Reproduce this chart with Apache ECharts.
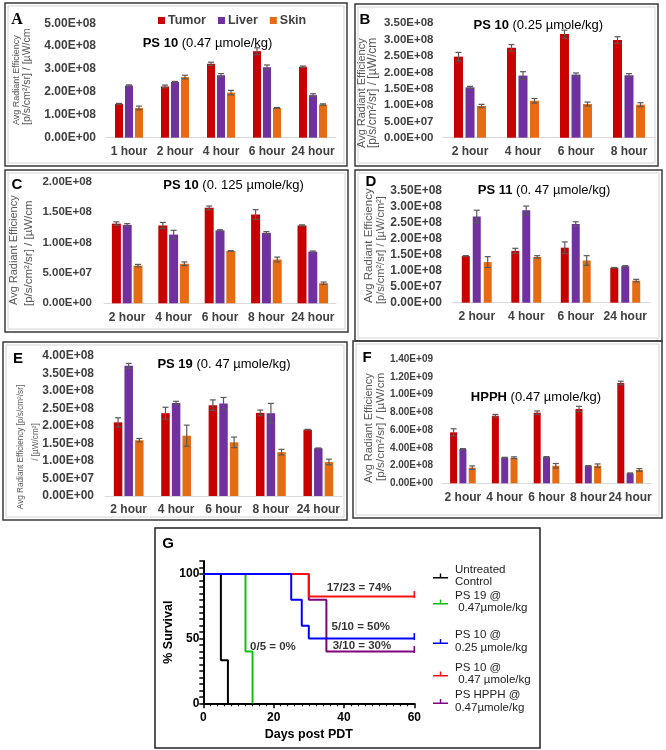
<!DOCTYPE html>
<html><head><meta charset="utf-8">
<script src="https://cdn.jsdelivr.net/npm/echarts@6/dist/echarts.min.js"></script>
<style>html,body{margin:0;padding:0;background:#fff}#c{width:666px;height:750px}</style>
</head><body><div id="c"></div><script>
const FONT = '"Liberation Sans", Arial, sans-serif';
const groups = ['Tumor', 'Liver', 'Skin'];
const groupColors = ['#c80000', '#7030a0', '#e56c12'];

// Panel A : PS 10 (0.47 umole/kg)
const catsA = ['1 hour', '2 hour', '4 hour', '6 hour', '24 hour'];
const tumorA = [1.48e8, 2.24e8, 3.23e8, 3.78e8, 3.10e8];
const liverA = [2.28e8, 2.44e8, 2.73e8, 3.08e8, 1.86e8];
const skinA = [1.30e8, 2.65e8, 1.97e8, 1.30e8, 1.45e8];
const tumorErrA = [0.02e8, 0.06e8, 0.07e8, 0.15e8, 0.03e8];
const liverErrA = [0.03e8, 0.02e8, 0.07e8, 0.10e8, 0.06e8];
const skinErrA = [0.08e8, 0.08e8, 0.10e8, 0.02e8, 0.03e8];

// Panel B : PS 10 (0.25 umole/kg)
const catsB = ['2 hour', '4 hour', '6 hour', '8 hour'];
const tumorB = [2.48e8, 2.75e8, 3.17e8, 2.99e8];
const liverB = [1.54e8, 1.90e8, 1.93e8, 1.91e8];
const skinB = [0.97e8, 1.13e8, 1.03e8, 1.01e8];
const tumorErrB = [0.13e8, 0.10e8, 0.12e8, 0.10e8];
const liverErrB = [0.03e8, 0.12e8, 0.05e8, 0.05e8];
const skinErrB = [0.05e8, 0.07e8, 0.06e8, 0.06e8];

// Panel C : PS 10 (0.125 umole/kg)
const catsC = ['2 hour', '4 hour', '6 hour', '8 hour', '24 hour'];
const tumorC = [1.31e8, 1.28e8, 1.57e8, 1.46e8, 1.28e8];
const liverC = [1.29e8, 1.13e8, 1.20e8, 1.16e8, 0.85e8];
const skinC = [0.62e8, 0.65e8, 0.86e8, 0.72e8, 0.33e8];
const tumorErrC = [0.03e8, 0.05e8, 0.03e8, 0.08e8, 0.01e8];
const liverErrC = [0.02e8, 0.07e8, 0.01e8, 0.02e8, 0.01e8];
const skinErrC = [0.02e8, 0.03e8, 0.005e8, 0.04e8, 0.02e8];

// Panel D : PS 11 (0.47 umole/kg)
const catsD = ['2 hour', '4 hour', '6 hour', '24 hour'];
const tumorD = [1.46e8, 1.62e8, 1.72e8, 1.09e8];
const liverD = [2.69e8, 2.89e8, 2.46e8, 1.14e8];
const skinD = [1.27e8, 1.43e8, 1.32e8, 0.69e8];
const tumorErrD = [0.01e8, 0.08e8, 0.18e8, 0.01e8];
const liverErrD = [0.20e8, 0.13e8, 0.07e8, 0.02e8];
const skinErrD = [0.17e8, 0.04e8, 0.15e8, 0.04e8];

// Panel E : PS 19 (0.47 umole/kg)
const catsE = ['2 hour', '4 hour', '6 hour', '8 hour', '24 hour'];
const tumorE = [2.10e8, 2.36e8, 2.59e8, 2.37e8, 1.89e8];
const liverE = [3.71e8, 2.65e8, 2.64e8, 2.36e8, 1.36e8];
const skinE = [1.59e8, 1.72e8, 1.53e8, 1.25e8, 0.97e8];
const tumorErrE = [0.13e8, 0.17e8, 0.15e8, 0.08e8, 0.01e8];
const liverErrE = [0.07e8, 0.05e8, 0.17e8, 0.28e8, 0.01e8];
const skinErrE = [0.05e8, 0.30e8, 0.15e8, 0.08e8, 0.08e8];

// Panel F : HPPH (0.47 umole/kg)
const catsF = ['2 hour', '4 hour', '6 hour', '8 hour', '24 hour'];
const tumorF = [5.74e8, 7.61e8, 7.95e8, 8.37e8, 11.3e8];
const liverF = [3.86e8, 2.88e8, 2.96e8, 1.95e8, 1.12e8];
const skinF = [1.76e8, 2.88e8, 1.98e8, 1.98e8, 1.50e8];
const tumorErrF = [0.40e8, 0.15e8, 0.20e8, 0.30e8, 0.20e8];
const liverErrF = [0.05e8, 0.05e8, 0.05e8, 0.05e8, 0.05e8];
const skinErrF = [0.20e8, 0.10e8, 0.25e8, 0.20e8, 0.15e8];

// Panel G : Kaplan-Meier survival ([day, % survival])
const survControl = [[0, 100], [5, 33.3], [7, 0]];
const survPS19 = [[0, 100], [12, 40], [14, 0]];
const survPS10low = [[0, 100], [25, 80], [28, 60], [30, 50], [60, 50]];
const survPS10high = [[0, 100], [30, 82.5], [60, 82.5]];
const survHPPH = [[0, 100], [30, 80], [35, 40], [60, 40]];
const survNames = ['Untreated\nControl', 'PS 19 @\n 0.47µmole/kg', 'PS 10 @\n0.25 µmole/kg', 'PS 10 @\n 0.47 µmole/kg', 'PS HPPH @\n0.47µmole/kg'];
const gNotes = [['17/23 = 74%', 44.3, 89.2], ['5/10 = 50%', 44.8, 59], ['3/10 = 30%', 45.1, 44.3], ['0/5 = 0%', 19.8, 43.5]];

function sci(v) {
  if (v === 0) return '0.00E+00';
  const parts = v.toExponential(2).split('e');
  const n = parseInt(parts[1], 10);
  return parts[0] + 'E' + (n < 0 ? '-' : '+') + String(Math.abs(n)).padStart(2, '0');
}

const barPanels = [
  {cats: catsA, vals: [tumorA, liverA, skinA], errs: [tumorErrA, liverErrA, skinErrA], max: 5e8, interval: 1e8,
   grid: {left: 106, top: 23.3, width: 230, height: 114.4}, bw: 8, gap: 0.25, ls: 12, lm: 10},
  {cats: catsB, vals: [tumorB, liverB, skinB], errs: [tumorErrB, liverErrB, skinErrB], max: 3.5e8, interval: 0.5e8,
   grid: {left: 443.5, top: 23.3, width: 212, height: 114.4}, bw: 9, gap: 0.28, ls: 11.5, lm: 10},
  {cats: catsC, vals: [tumorC, liverC, skinC], errs: [tumorErrC, liverErrC, skinErrC], max: 2e8, interval: 0.5e8,
   grid: {left: 104, top: 181.7, width: 232, height: 121.6}, bw: 9, gap: 0.2, ls: 11.5, lm: 12},
  {cats: catsD, vals: [tumorD, liverD, skinD], errs: [tumorErrD, liverErrD, skinErrD], max: 3.5e8, interval: 0.5e8,
   grid: {left: 452, top: 190.7, width: 198, height: 112}, bw: 8, gap: 0.37, ls: 12, lm: 10},
  {cats: catsE, vals: [tumorE, liverE, skinE], errs: [tumorErrE, liverErrE, skinErrE], max: 4e8, interval: 0.5e8,
   grid: {left: 105, top: 355.7, width: 237, height: 140.3}, bw: 8.5, gap: 0.25, ls: 12, lm: 11},
  {cats: catsF, vals: [tumorF, liverF, skinF], errs: [tumorErrF, liverErrF, skinErrF], max: 1.4e9, interval: 2e8,
   grid: {left: 442, top: 359, width: 209, height: 124.3}, bw: 7, gap: 0.33, ls: 10, lm: 9}
];

const grids = [], xAxes = [], yAxes = [], series = [];

function errRender(offset) {
  return function (params, api) {
    const c = api.value(0), v = api.value(1), e = api.value(2);
    const pT = api.coord([c, v + e]), pB = api.coord([c, v - e]);
    const x = pT[0] + offset, cap = 3;
    const st = {stroke: '#595959', lineWidth: 1.2};
    return {type: 'group', children: [
      {type: 'line', shape: {x1: x, y1: pT[1], x2: x, y2: pB[1]}, style: st},
      {type: 'line', shape: {x1: x - cap, y1: pT[1], x2: x + cap, y2: pT[1]}, style: st},
      {type: 'line', shape: {x1: x - cap, y1: pB[1], x2: x + cap, y2: pB[1]}, style: st}
    ]};
  };
}

barPanels.forEach((p, i) => {
  grids.push(Object.assign({containLabel: false}, p.grid));
  xAxes.push({
    gridIndex: i, type: 'category', data: p.cats,
    axisLine: {lineStyle: {color: '#d9d9d9', width: 1}},
    axisTick: {show: false},
    axisLabel: {interval: 0, fontFamily: FONT, fontSize: 12, fontWeight: 'bold', color: '#404040', margin: 8}
  });
  yAxes.push({
    gridIndex: i, type: 'value', min: 0, max: p.max, interval: p.interval,
    axisLine: {show: false}, axisTick: {show: false}, splitLine: {show: false},
    axisLabel: {formatter: sci, fontFamily: FONT, fontSize: p.ls, fontWeight: 'bold', color: '#404040', margin: p.lm}
  });
  const step = p.bw * (1 + p.gap);
  groups.forEach((g, k) => {
    series.push({
      type: 'bar', name: g, xAxisIndex: i, yAxisIndex: i, data: p.vals[k],
      barWidth: p.bw, barGap: (p.gap * 100) + '%',
      itemStyle: {color: groupColors[k]}, z: 2
    });
    series.push({
      type: 'custom', name: g + ' err', xAxisIndex: i, yAxisIndex: i, z: 3,
      data: p.vals[k].map((v, j) => [j, v, p.errs[k][j]]),
      encode: {x: 0, y: 1},
      renderItem: errRender((k - 1) * step)
    });
  });
});

// Panel G grid
grids.push({left: 203.3, top: 561, width: 211, height: 142.3});
xAxes.push({
  gridIndex: 6, type: 'value', min: 0, max: 60, interval: 20,
  axisLine: {show: true, onZero: false, lineStyle: {color: '#000', width: 2}},
  axisTick: {show: true, length: 5, lineStyle: {color: '#000', width: 1.5}},
  minorTick: {show: true, splitNumber: 10, length: 3, lineStyle: {color: '#000', width: 1.2}},
  splitLine: {show: false},
  axisLabel: {fontFamily: FONT, fontSize: 12, fontWeight: 'bold', color: '#000', margin: 8},
  name: 'Days post PDT', nameLocation: 'middle', nameGap: 25,
  nameTextStyle: {fontFamily: FONT, fontSize: 12.5, fontWeight: 'bold', color: '#000'}
});
yAxes.push({
  gridIndex: 6, type: 'value', min: 0, max: 110, interval: 5,
  axisLine: {show: true, onZero: false, lineStyle: {color: '#000', width: 2}},
  axisTick: {show: true, length: 4, lineStyle: {color: '#000', width: 1.5}},
  splitLine: {show: false},
  axisLabel: {fontFamily: FONT, fontSize: 12, fontWeight: 'bold', color: '#000', margin: 4,
    formatter: v => (v % 50 === 0 && v <= 100) ? String(v) : ''},
  name: '% Survival', nameLocation: 'middle', nameGap: 28,
  nameTextStyle: {fontFamily: FONT, fontSize: 12.5, fontWeight: 'bold', color: '#000'}
});

const survSets = [
  [survNames[0], survControl, '#000000'],
  [survNames[1], survPS19, '#11c011'],
  [survNames[4], survHPPH, '#800080'],
  [survNames[3], survPS10high, '#ff1010'],
  [survNames[2], survPS10low, '#0000ff']
];
survSets.forEach(([name, pts, col]) => {
  series.push({
    type: 'line', name: name, xAxisIndex: 6, yAxisIndex: 6, step: 'end',
    showSymbol: true, symbol: 'none',
    data: pts.map((pt, j) => j === pts.length - 1 && pt[0] === 60
      ? {value: pt, symbol: 'rect', symbolSize: [1.6, 7], symbolOffset: [0, -2]} : {value: pt}),
    lineStyle: {color: col, width: 2}, itemStyle: {color: col},
    animation: false, z: 2
  });
});
series.push({
  type: 'scatter', name: 'notes', xAxisIndex: 6, yAxisIndex: 6, symbolSize: 1,
  itemStyle: {color: 'rgba(0,0,0,0)'},
  data: gNotes.map(n => [n[1], n[2], n[0]]),
  label: {show: true, position: 'inside', formatter: p => p.data[2], fontFamily: FONT,
    fontSize: 11.5, fontWeight: 'bold', color: '#000'},
  z: 5
});

const gIcon = 'path://M0,4.5L15,4.5L15,6L0,6Z M6.8,1L8.2,1L8.2,4.5L6.8,4.5Z';
const gLegendCenters = [571, 597, 636.5, 669, 696.5];
const gColors = ['#000000', '#11c011', '#0000ff', '#ff1010', '#800080'];
const legends = [{
  data: groups, left: 153, top: 9, itemWidth: 7, itemHeight: 7, itemGap: 12, icon: 'rect',
  selectedMode: false,
  textStyle: {fontFamily: FONT, fontSize: 12.5, fontWeight: 'bold', color: '#404040', padding: [0, 0, 0, -2]}
}];
survNames.forEach((nm, i) => {
  legends.push({
    data: [{name: nm, icon: gIcon, itemStyle: {color: gColors[i]}}], left: 428, top: gLegendCenters[i] - 12.5,
    itemWidth: 15, itemHeight: 6, selectedMode: false, orient: 'vertical',
    textStyle: {fontFamily: FONT, fontSize: 11.5, lineHeight: 12.5, color: '#222', padding: [0, 0, 0, 2]}
  });
});

// Panel frames, letters, titles, axis titles
const frames = [
  [5, 3, 342, 163], [355, 4, 303, 162], [5, 170, 343, 162],
  [355, 170, 307, 171], [3, 342, 344, 178], [353, 341, 309, 177]
];
const graphics = [];
frames.forEach(f => {
  graphics.push({type: 'rect', shape: {x: f[0], y: f[1], width: f[2], height: f[3]}, style: {fill: null, stroke: '#3a3a3a', lineWidth: 1.5}, z: -1});
  graphics.push({type: 'rect', shape: {x: f[0] + 3, y: f[1] + 3, width: f[2] - 6, height: f[3] - 6}, style: {fill: null, stroke: '#d4d4d4', lineWidth: 1}, z: -1});
});
graphics.push({type: 'rect', shape: {x: 155, y: 528, width: 385, height: 220}, style: {fill: null, stroke: '#222', lineWidth: 1.5}, z: -1});

const letters = [['A', 17, 20, true], ['B', 365, 20], ['C', 17, 185], ['D', 371, 182], ['E', 18, 359], ['F', 367, 358], ['G', 168, 544]];
letters.forEach(l => {
  graphics.push({type: 'text', x: l[1], y: l[2], style: {text: l[0], fontFamily: l[3] ? '"Liberation Serif", "Times New Roman", serif' : FONT,
    fontSize: l[3] ? 16 : 15, fontWeight: 'bold', fill: '#000', textAlign: 'center', textVerticalAlign: 'middle'}});
});

const titles = [
  ['PS 10', ' (0.47 µmole/kg)', 207.5, 43.3], ['PS 10', ' (0.25 µmole/kg)', 538.3, 25],
  ['PS 10', ' (0. 125 µmole/kg)', 233.5, 185.7], ['PS 11', ' (0. 47 µmole/kg)', 544, 190.7],
  ['PS 19', ' (0. 47 µmole/kg)', 224, 364], ['HPPH', ' (0.47 µmole/kg)', 536, 397]
];
titles.forEach(t => {
  graphics.push({type: 'text', x: t[2], y: t[3], style: {
    text: '{b|' + t[0] + '}{n|' + t[1] + '}', textAlign: 'center', textVerticalAlign: 'middle',
    fontFamily: FONT, fontSize: 13, fill: '#000',
    rich: {b: {fontFamily: FONT, fontSize: 13, fontWeight: 'bold', fill: '#000'}, n: {fontFamily: FONT, fontSize: 13, fill: '#000'}}
  }});
});

const yNames = [
  ['Avg Radiant Efficiency', 17, 125, 9, 'left'], ['[p/s/cm²/sr] / [µW/cm', 27.5, 125, 10.5, 'left'],
  ['Avg Radiant Efficiency', 362, 148, 11, 'left'], ['[p/s/cm²/sr] / [µW/cm', 373, 148, 12, 'left'],
  ['Avg Radiant Efficiency', 14, 305, 11, 'left'], ['[p/s/cm²/sr] / [µW/cm', 29, 306, 11.5, 'left'],
  ['Avg Radiant Efficiency', 369, 303, 11.5, 'left'], ['[p/s/cm²/sr] / [µW/cm²]', 381, 304, 11, 'left'],
  ['Avg Radiant Efficiency [p/s/cm²/sr]', 20.5, 447, 8.2, 'center'], ['/ [µW/cm²]', 35.5, 442, 8.2, 'center'],
  ['Avg Radiant Efficiency', 369, 483, 11, 'left'], ['[p/s/cm²/sr] / [µW/cm', 381, 481, 11.8, 'left']
];
yNames.forEach(n => {
  graphics.push({type: 'text', x: n[1], y: n[2], rotation: Math.PI / 2, style: {
    text: n[0], fontFamily: FONT, fontSize: n[3], fill: '#595959', textAlign: n[4], textVerticalAlign: 'middle'}});
});

const chart = echarts.init(document.getElementById('c'), null, {renderer: 'canvas', width: 666, height: 750});
chart.setOption({
  animation: false,
  backgroundColor: '#ffffff',
  grid: grids, xAxis: xAxes, yAxis: yAxes,
  legend: legends,
  series: series,
  graphic: graphics
});
</script></body></html>
